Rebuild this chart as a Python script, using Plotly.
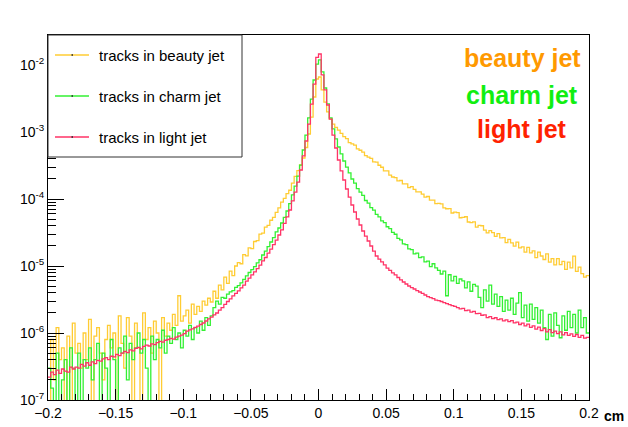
import numpy as np
import plotly.graph_objects as go

# Histogram binning (cm)
X_MIN, X_MAX, N_BINS = -0.2, 0.2, 200
SCALE = 1e-7  # bin contents below are stored in units of 1e-7

beauty_counts = [
    0.8, 8, 2, 12, 4, 6, 0.8, 9, 0.8, 14,
    5, 7, 3, 10, 4, 16, 0.8, 9, 12, 5,
    2, 8, 13, 6, 10, 0.8, 18, 7, 3, 17,
    9, 0.8, 14, 6, 0.8, 20, 8, 12, 5, 15,
    10, 0.8, 17, 9, 14, 11, 19, 13, 36, 15,
    18, 22, 14, 27, 19, 25, 21, 30, 26, 33,
    29, 42, 33, 52, 44, 68, 55, 84, 72, 100,
    112, 108, 148, 142, 186, 182, 232, 240, 300, 310,
    380, 405, 482, 530, 630, 735, 900, 1020, 1200, 1350,
    1730, 2175, 2660, 3220, 4090, 5870, 9330, 16700, 33300, 61800,
    66200, 42400, 27900, 20000, 15700, 13100, 11700, 10700, 9560, 8550,
    7960, 6960, 6660, 6370, 5600, 5340, 5010, 4450, 4230, 4030,
    3580, 3540, 3190, 2980, 2630, 2630, 2270, 2130, 2080, 1860,
    1890, 1680, 1680, 1480, 1530, 1390, 1280, 1280, 1180, 1070,
    1090, 964, 962, 852, 859, 848, 737, 715, 719, 618,
    637, 628, 525, 530, 543, 454, 445, 457, 380, 405,
    399, 343, 312, 338, 314, 277, 305, 263, 265, 224,
    250, 222, 198, 227, 187, 193, 161, 190, 157, 168,
    133, 161, 141, 125, 152, 114, 129, 104, 129, 105,
    117, 89, 114, 94, 140, 83, 96, 77, 68, 72,
]

charm_counts = [
    3, 1.5, 0.8, 5, 0.8, 2, 4, 0.8, 6, 3,
    0.8, 5, 0.8, 4, 3, 6, 2, 4, 7, 0.8,
    5, 3, 0.8, 8, 4, 0.8, 6, 5, 9, 2,
    7, 4, 6, 10, 5, 8, 3, 0.8, 9, 4,
    8, 6, 11, 5, 9, 7, 12, 8, 10, 6,
    11, 9, 13, 8, 12, 10, 15, 11, 17, 13,
    18, 24, 30, 27, 34, 33, 38, 41, 43, 48,
    51, 56, 63, 71, 80, 88, 98, 111, 124, 146,
    167, 195, 228, 265, 322, 369, 438, 530, 662, 855,
    1150, 1560, 2200, 3200, 5390, 9010, 16200, 31000, 59700, 103000,
    119000, 78700, 45400, 26200, 16200, 11100, 7870, 5970, 4700, 3690,
    3000, 2460, 1990, 1720, 1430, 1270, 1130, 950, 870, 745,
    680, 590, 540, 470, 445, 385, 362, 318, 298, 258,
    246, 214, 208, 180, 176, 152, 156, 133, 137, 115,
    118, 98, 108, 94, 86, 76, 84, 36, 74, 60,
    70, 55, 64, 60, 47, 58, 42, 53, 50, 34,
    24, 44, 30, 52, 27, 38, 25, 35, 21, 31,
    22, 33, 19, 28, 40, 17, 26, 15, 27, 16,
    24, 14, 22, 12, 8, 19, 9, 20, 13, 8.5,
    18, 11, 21, 12, 19, 10, 22, 12, 17, 10,
]

light_counts = [
    2.2, 2.6, 2.4, 2.8, 2.5, 2.9, 2.7, 2.6, 3.1, 2.9,
    3.1, 3.0, 3.4, 3.2, 3.6, 3.3, 3.7, 3.5, 3.9, 3.8,
    4.1, 4.3, 4.0, 4.5, 4.4, 4.8, 4.6, 5.0, 5.3, 5.1,
    5.6, 5.4, 5.9, 6.1, 5.8, 6.3, 6.6, 6.4, 6.9, 6.7,
    7.2, 7.5, 7.3, 7.8, 8.0, 8.3, 8.1, 8.7, 9.0, 9.3,
    9.8, 10.7, 11.1, 11.5, 12.1, 12.7, 13.4, 14.1, 15.1, 16.2,
    17.3, 18.6, 19.9, 22.0, 24.0, 26.7, 29.5, 32.2, 35.7, 38.9,
    42.4, 47.0, 52.0, 59.5, 66.0, 73.5, 81.5, 91.6, 103, 119,
    134, 156, 179, 209, 244, 290, 345, 432, 540, 685,
    935, 1270, 1790, 2710, 4400, 7340, 13100, 26100, 52000, 130000,
    146000, 71000, 42400, 25300, 15600, 9010, 5770, 3820, 2620, 1920,
    1410, 1070, 813, 640, 503, 409, 333, 280, 236, 199,
    167, 141, 127, 115, 104, 93, 86, 79, 73.5, 67.3,
    62, 57.7, 53.9, 50.3, 47.7, 45.4, 43, 40.9, 38.9, 36.9,
    35, 33.8, 32.6, 31, 30.5, 29.5, 28.5, 27.5, 26.6, 25.7,
    24.9, 24.0, 22.9, 23.3, 21.6, 22.0, 20.5, 21.0, 19.5, 19.6,
    18.4, 18.6, 17.0, 17.6, 16.4, 16.9, 15.8, 16.3, 15.2, 15.7,
    14.8, 15.3, 14.2, 14.5, 13.4, 14.0, 12.8, 13.6, 12.1, 12.8,
    11.4, 12.2, 10.9, 11.6, 10.4, 11.2, 10.1, 10.7, 9.8, 10.4,
    9.4, 10.1, 9.2, 9.7, 8.9, 9.5, 8.6, 9.2, 8.4, 8.6,
]

series_names = ["tracks in beauty jet", "tracks in charm jet", "tracks in light jet"]
line_colors = ["#FFCC33", "#33F033", "#FF3366"]
tag_labels = ["beauty jet", "charm jet", "light jet"]
tag_colors = ["#FF9900", "#11EE11", "#FF2200"]

x_tickvals = [-0.2, -0.15, -0.1, -0.05, 0, 0.05, 0.1, 0.15, 0.2]
x_ticktext = ["\u22120.2", "\u22120.15", "\u22120.1", "\u22120.05", "0", "0.05", "0.1", "0.15", "0.2"]
y_tickvals = [1e-7, 1e-6, 1e-5, 1e-4, 1e-3, 1e-2]
y_ticktext = ["10<sup>-7</sup>", "10<sup>-6</sup>", "10<sup>-5</sup>",
              "10<sup>-4</sup>", "10<sup>-3</sup>", "10<sup>-2</sup>"]
x_label = "cm"

FONT = "Liberation Sans, Arial, Helvetica, sans-serif"
W, H = 628, 427
ML, MR, MT, MB = 48, 39, 35, 27
PW, PH = W - ML - MR, H - MT - MB
PX_PER_DECADE = 67.0
Y_LOG_MIN = -7.0
Y_LOG_MAX = Y_LOG_MIN + PH / PX_PER_DECADE


def px(x):
    return (x - ML) / PW


def py(y):
    return (H - MB - y) / PH


edges = np.linspace(X_MIN, X_MAX, N_BINS + 1)
y_minor = [m * 10.0 ** e for e in range(-7, -1) for m in range(2, 10)]

fig = go.Figure()
for counts, name, color in zip([beauty_counts, charm_counts, light_counts],
                               series_names, line_colors):
    vals = np.asarray(counts, dtype=float) * SCALE
    fig.add_trace(go.Scatter(
        x=edges, y=np.append(vals, vals[-1]), mode="lines", name=name,
        line=dict(color=color, width=1.3, shape="hv"),
        showlegend=False, hoverinfo="skip"))

shapes = [
    # legend frame
    dict(type="rect", xref="paper", yref="paper", x0=px(48), x1=px(242),
         y0=py(157), y1=py(35), fillcolor="white",
         line=dict(color="#333333", width=1), layer="above"),
]
annotations = []
legend_y = [55, 96, 137]
for name, color, ly in zip(series_names, line_colors, legend_y):
    shapes.append(dict(type="line", xref="paper", yref="paper",
                       x0=px(55), x1=px(89), y0=py(ly), y1=py(ly),
                       line=dict(color=color, width=1.3), layer="above"))
    shapes.append(dict(type="rect", xref="paper", yref="paper",
                       x0=px(71.5), x1=px(73), y0=py(ly + 0.7), y1=py(ly - 0.7),
                       fillcolor="#222222", line=dict(width=0), layer="above"))
    annotations.append(dict(x=px(97), y=py(ly), xref="paper", yref="paper",
                            text=name, showarrow=False, xanchor="left",
                            yanchor="middle",
                            font=dict(family=FONT, size=15, color="black")))

for text, color, ty in zip(tag_labels, tag_colors, [58, 95, 129]):
    annotations.append(dict(x=px(522), y=py(ty), xref="paper", yref="paper",
                            text="<b>" + text + "</b>", showarrow=False,
                            xanchor="center", yanchor="middle",
                            font=dict(family=FONT, size=25, color=color)))

annotations.append(dict(x=px(614), y=py(416), xref="paper", yref="paper",
                        text="<b>" + x_label + "</b>", showarrow=False,
                        xanchor="center", yanchor="middle",
                        font=dict(family=FONT, size=14, color="black")))

fig.update_layout(
    width=W, height=H,
    margin=dict(l=ML, r=MR, t=MT, b=MB, autoexpand=False),
    paper_bgcolor="white", plot_bgcolor="white",
    font=dict(family=FONT, size=14, color="black"),
    shapes=shapes, annotations=annotations,
    xaxis=dict(
        range=[X_MIN, X_MAX], tickmode="array", tickvals=x_tickvals,
        ticktext=x_ticktext, ticks="inside", ticklen=11, tickwidth=1,
        tickcolor="black", showline=True, linecolor="black", linewidth=1,
        mirror=True, showgrid=False, zeroline=False, automargin=False,
        tickfont=dict(family=FONT, size=14, color="black"),
        minor=dict(ticks="inside", ticklen=6, tickwidth=1, tickcolor="black",
                   tick0=0, dtick=0.01, showgrid=False),
    ),
    yaxis=dict(
        type="log", range=[Y_LOG_MIN, Y_LOG_MAX],
        tickmode="array", tickvals=y_tickvals, ticktext=y_ticktext,
        ticks="inside", ticklen=16, tickwidth=1, tickcolor="black",
        showline=True, linecolor="black", linewidth=1, mirror=True,
        showgrid=False, zeroline=False, automargin=False,
        tickfont=dict(family=FONT, size=14, color="black"),
        minor=dict(ticks="inside", ticklen=8, tickwidth=1, tickcolor="black",
                   tickmode="array", tickvals=y_minor, showgrid=False),
    ),
)

fig.write_html("out.html")
